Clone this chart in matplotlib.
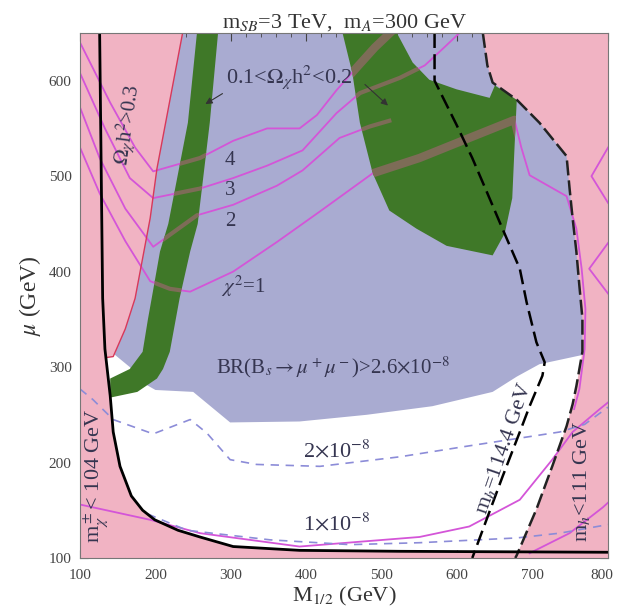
import matplotlib.pyplot as plt
import matplotlib.transforms as mtransforms
from matplotlib.patches import Polygon

plt.rcParams['font.family'] = ['Liberation Serif', 'DejaVu Serif']
plt.rcParams['mathtext.fontset'] = 'stix'

# chargino bound (solid black)
black_x = [126, 130, 133, 140, 144, 153, 168, 183, 199, 230, 259, 303, 391, 524, 800]
black_y = [650, 372, 319, 270, 232, 196, 165, 150, 140, 129, 122, 112, 108, 107, 106]

# Omega h^2 > 0.3 boundary (red)
red_x = [236, 202, 193, 173, 160, 144, 135]
red_y = [650, 508, 456, 372, 340, 311, 310]

# m_h < 111 GeV boundary (dashed)
hb_x = [634, 640, 647, 679, 709, 745, 749, 753, 758, 762, 766, 766, 758, 753, 745, 726, 705, 679, 677]
hb_y = [650, 616, 598, 580, 556, 521, 487, 456, 421, 385, 351, 316, 280, 261, 238, 196, 151, 103, 100]

# m_h = 114.4 GeV (dashed)
mh_x = [570, 570, 599, 620, 639, 660, 683, 692, 705, 716, 713, 696, 683, 660, 620]
mh_y = [650, 600, 554, 519, 484, 445, 403, 368, 326, 305, 291, 259, 232, 185, 100]

# BR(Bs->mumu) > 2.6e-8 region
br_x = [225, 195, 186, 168, 156, 146, 166, 180, 200, 250, 299, 391, 480, 567, 647, 679, 709, 762, 800, 800]
br_y = [650, 508, 456, 372, 340, 313, 300, 285, 276, 274, 242, 243, 250, 259, 274, 290, 303, 312, 317, 650]

# 0.1 < Omega h^2 < 0.2 bands
gl_x = [283, 272, 256, 246, 232, 219, 210, 202, 176, 140, 140, 166, 183, 190, 195, 206, 217, 243, 255]
gl_y = [650, 556, 450, 421, 372, 316, 298, 288, 274, 268, 288, 298, 316, 350, 372, 421, 450, 556, 650]
gb_x = [448, 520, 541, 563, 599, 643, 650, 679, 676, 673, 663, 647, 586, 546, 510, 488, 471, 461]
gb_y = [650, 650, 619, 601, 591, 582, 595, 580, 530, 477, 440, 417, 427, 445, 464, 503, 556, 608]

# chi^2 contours
chi4_x = [100, 140, 173, 197, 259, 303, 348, 391, 414, 440, 467, 491, 511]
chi4_y = [640, 577, 530, 505, 519, 537, 550, 550, 564, 590, 614, 635, 650]
chi3_x = [100, 133, 166, 197, 259, 303, 348, 395, 440, 471, 524, 557, 583, 603]
chi3_y = [608, 550, 498, 477, 487, 498, 511, 527, 566, 587, 603, 616, 635, 650]
chi2_x = [100, 126, 160, 197, 255, 303, 361, 395, 444, 484, 510]
chi2_y = [572, 519, 466, 426, 459, 470, 490, 506, 540, 552, 558]
chi1_x = [100, 126, 160, 193, 219, 246, 303, 361, 418, 488, 550, 616, 676, 685, 696, 745, 758, 765, 770, 769, 762, 755]
chi1_y = [530, 482, 432, 390, 382, 379, 400, 431, 463, 503, 519, 540, 559, 530, 501, 479, 445, 403, 361, 319, 277, 256]
mlow_x = [100, 193, 259, 391, 550, 616, 683, 726, 753, 789, 800]
mlow_y = [156, 140, 126, 112, 122, 133, 161, 203, 232, 256, 263]
mlow2_x = [696, 749, 793, 800]
mlow2_y = [105, 126, 153, 158]
zig1_x = [800, 778, 800]
zig1_y = [530, 500, 472]
zig2_x = [800, 775, 800]
zig2_y = [430, 403, 377]

# BR contours (dashed)
br2_x = [100, 117, 144, 197, 246, 268, 299, 334, 418, 524, 612, 736, 769, 800]
br2_y = [277, 266, 245, 230, 245, 231, 203, 198, 196, 206, 217, 232, 240, 258]
br1_x = [190, 242, 352, 458, 550, 679, 736, 800]
br1_y = [146, 129, 119, 114, 116, 121, 126, 135]

pink = '#F1B3C3'
lav = '#A9ABD1'
green = '#3F7828'
mag = '#D455D8'
brown = '#7d6c57'
txt = '#353550'

fig = plt.figure(figsize=(6.17, 6.15), dpi=100)
ax = fig.add_axes([0.1297, 0.0927, 0.8558, 0.8537])
ax.set_xlim(100, 800)
ax.set_ylim(100, 650)

ax.add_patch(Polygon(list(zip(br_x, br_y)), closed=True, fc=lav, ec='none', zorder=1))
green_left = Polygon(list(zip(gl_x, gl_y)), closed=True, fc=green, ec='none', zorder=2)
green_blob = Polygon(list(zip(gb_x, gb_y)), closed=True, fc=green, ec='none', zorder=2)
ax.add_patch(green_left)
ax.add_patch(green_blob)

pa = [(100, 650)] + list(zip(red_x, red_y)) + list(zip(black_x[3:], black_y[3:])) + [(800, 100), (100, 100)]
ax.add_patch(Polygon(pa, closed=True, fc=pink, ec='none', zorder=3))
pb = list(zip(hb_x, hb_y)) + [(800, 100), (800, 650)]
ax.add_patch(Polygon(pb, closed=True, fc=pink, ec='none', zorder=3))

chis = [(chi1_x, chi1_y), (chi2_x, chi2_y), (chi3_x, chi3_y), (chi4_x, chi4_y)]
for cx, cy in chis + [(mlow_x, mlow_y), (mlow2_x, mlow2_y), (zig1_x, zig1_y), (zig2_x, zig2_y)]:
    ax.plot(cx, cy, color=mag, lw=1.3, zorder=4)

# contours seen through the green bands
for cx, cy in chis:
    ln, = ax.plot(cx, cy, color=brown, lw=3, zorder=4.5)
    ln.set_clip_path(green_left)
for (cx, cy), w in zip(chis, [6, 3, 3, 6]):
    ln, = ax.plot(cx, cy, color=brown, lw=w, zorder=4.5)
    ln.set_clip_path(green_blob)

ax.plot(red_x, red_y, color='#D8385A', lw=1.0, zorder=5)
ax.plot(br2_x, br2_y, color='#8C8CD8', lw=1.2, ls=(0, (5, 4)), zorder=5)
ax.plot(br1_x, br1_y, color='#8C8CD8', lw=1.2, ls=(0, (5, 4)), zorder=5)
ax.plot(hb_x, hb_y, color='#222222', lw=1.8, ls=(0, (6, 2)), zorder=6)
ax.plot(mh_x, mh_y, color='black', lw=1.8, ls=(0, (6, 2.5)), zorder=6)
ax.plot(black_x, black_y, color='black', lw=2.0, zorder=6)

ax.text(378, 604, r'0.1<$\Omega_\chi$h$^2$<0.2', fontsize=16, color=txt, ha='center', va='center', zorder=7)
ax.annotate('', xy=(263, 574), xytext=(292, 588),
            arrowprops=dict(arrowstyle='-|>', color='#333333', lw=0.8, mutation_scale=10), zorder=7)
ax.annotate('', xy=(511, 572), xytext=(475, 598),
            arrowprops=dict(arrowstyle='-|>', color='#333333', lw=0.8, mutation_scale=10), zorder=7)
ax.text(299, 516, '4', fontsize=15, color=txt, ha='center', va='center', zorder=7)
ax.text(299, 485, '3', fontsize=15, color=txt, ha='center', va='center', zorder=7)
ax.text(299, 453, '2', fontsize=15, color=txt, ha='center', va='center', zorder=7)
ax.text(316, 385, r'$\chi^2$=1', fontsize=15, color=txt, ha='center', va='center', zorder=7)
ax.text(164, 554, r'$\Omega_\chi$h$^2$>0.3', fontsize=15, color=txt, ha='center', va='center', rotation=82, zorder=7)
ax.text(435, 300, r'BR(B$_s$$\rightarrow$$\mu^+\mu^-$)>2.6$\times$10$^{-8}$', fontsize=15, color=txt,
        ha='center', va='center', zorder=7)
ax.text(441, 212, r'2$\times$10$^{-8}$', fontsize=16, color=txt, ha='center', va='center', zorder=7)
ax.text(441, 135, r'1$\times$10$^{-8}$', fontsize=16, color=txt, ha='center', va='center', zorder=7)
ax.text(662, 215, r'm$_h$=114.4 GeV', fontsize=16, color=txt, ha='center', va='center', rotation=71, zorder=7)
ax.text(765, 181, r'm$_h$<111 GeV', fontsize=16, color=txt, ha='center', va='center', rotation=90, zorder=7)
ax.text(122, 186, r'm$_\chi^\pm$< 104 GeV', fontsize=16, color=txt, ha='center', va='center', rotation=90, zorder=7)

ax.set_title(r'm$_{SB}$=3 TeV,  m$_A$=300 GeV', fontsize=16, color='#333333', pad=3)
ax.set_xlabel(r'M$_{1/2}$ (GeV)', fontsize=16, color='#333333', labelpad=2)
ax.set_ylabel(r'$\mu$ (GeV)', fontsize=17, color='#333333', labelpad=4)

ax.set_xticks(range(100, 801, 100))
ax.set_yticks(range(100, 601, 100))
ax.set_xticks(range(100, 801, 20), minor=True)
ax.set_yticks(range(100, 651, 10), minor=True)
ax.tick_params(which='both', direction='in', top=True, right=True, labelsize=11, colors='#444444', zorder=8)
ax.tick_params(axis='x', which='major', pad=8)
ax.tick_params(axis='y', which='major', pad=6)
ax.tick_params(which='major', length=6)
ax.tick_params(which='minor', length=3)
for s in ax.spines.values():
    s.set_color('#777777')
    s.set_linewidth(0.8)
    s.set_zorder(8)

# keep the last x tick label inside the image
fig.canvas.draw()
last = ax.get_xticklabels()[-1]
last.set_transform(last.get_transform() + mtransforms.ScaledTranslation(-6 / 100, 0, fig.dpi_scale_trans))

fig.savefig('out.png', dpi=100)
